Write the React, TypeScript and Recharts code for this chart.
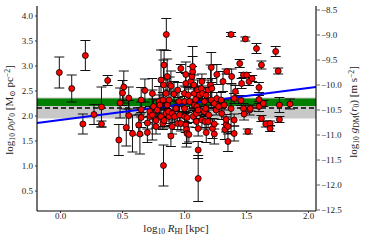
import React from "react";
import { ComposedChart, Scatter, ErrorBar, XAxis, YAxis, ReferenceArea, ReferenceLine } from "recharts";

// log10 R_HI [kpc]
const rhiLog = [
  -0.01, 0.09, 0.2, 0.18, 0.27, 0.33, 0.33, 0.38, 0.47, 0.48, 0.5, 0.51, 0.53, 0.55, 0.55, 0.58, 0.63, 0.64, 0.65, 0.65,
  0.65, 0.68, 0.7, 0.72, 0.72, 0.7, 0.74, 0.74, 0.75, 0.77, 0.77, 0.78, 0.795, 0.8, 0.81, 0.81, 0.825, 0.825, 0.83, 0.835,
  0.83, 0.835, 0.853, 0.86, 0.85, 0.85, 0.86, 0.875, 0.875, 0.87, 0.88, 0.89, 0.89, 0.9, 0.915, 0.92, 0.93, 0.945, 0.945, 0.955,
  0.96, 0.97, 0.97, 1.0, 1.0, 1.0, 1.0, 1.01, 1.01, 1.01, 1.015, 1.02, 1.02, 1.03, 1.04, 1.05, 1.06, 1.065, 1.065, 1.075,
  1.07, 1.08, 1.08, 1.09, 1.095, 1.095, 1.1, 1.105, 1.11, 1.11, 1.11, 1.11, 1.12, 1.135, 1.14, 1.14, 1.145, 1.16, 1.16, 1.165,
  1.17, 1.175, 1.175, 1.19, 1.19, 1.195, 1.21, 1.215, 1.215, 1.22, 1.225, 1.24, 1.24, 1.24, 1.255, 1.26, 1.26, 1.275, 1.295, 1.3,
  1.31, 1.32, 1.325, 1.335, 1.335, 1.34, 1.35, 1.35, 1.375, 1.375, 1.38, 1.4, 1.4, 1.4, 1.41, 1.445, 1.455, 1.46, 1.475, 1.475,
  1.48, 1.49, 1.5, 1.51, 1.525, 1.52, 1.53, 1.545, 1.58, 1.6, 1.6, 1.6, 1.62, 1.62, 1.635, 1.655, 1.69, 1.69, 1.735, 1.755,
  1.765, 1.765, 1.85, 1.035, 0.9,
];

// log10 rho0 r0 [Msun pc^-2]
const rhoLog = [
  2.87, 2.55, 3.21, 1.84, 2.03, 2.18, 1.84, 2.71, 1.52, 2.26, 2.46, 2.58, 1.77, 2.01, 2.36, 1.65, 1.82, 1.64, 2.32, 1.97,
  2.13, 2.51, 1.86, 1.99, 2.09, 1.67, 2.45, 2.02, 2.19, 1.91, 1.79, 2.12, 2.29, 2.22, 1.99, 2.72, 1.85, 2.32, 2.62, 3.02,
  1.01, 1.91, 3.63, 2.79, 2.45, 2.05, 2.22, 2.32, 1.99, 2.09, 2.63, 2.6, 1.6, 2.05, 2.44, 1.99, 2.15, 2.52, 1.85, 2.29,
  2.02, 2.95, 1.85, 2.45, 2.29, 2.15, 1.99, 2.83, 2.65, 1.82, 1.73, 1.65, 1.97, 2.42, 2.29, 2.69, 2.79, 2.89, 2.99, 2.62,
  1.99, 2.45, 2.22, 2.33, 2.05, 1.89, 2.19, 2.52, 2.12, 1.75, 1.32, 0.75, 2.42, 2.55, 2.69, 1.92, 2.45, 2.29, 2.09, 1.89,
  2.15, 2.42, 1.67, 2.52, 1.89, 2.02, 2.62, 2.97, 2.32, 2.55, 1.75, 1.84, 2.25, 1.64, 2.12, 2.35, 2.83, 2.19, 2.32, 2.05,
  2.69, 2.22, 1.73, 1.83, 1.93, 2.89, 1.79, 1.49, 3.63, 2.15, 2.79, 2.35, 1.92, 1.65, 2.49, 3.05, 2.31, 2.65, 2.82, 2.15,
  2.04, 3.54, 2.82, 1.69, 2.12, 2.69, 2.15, 2.75, 3.35, 2.57, 2.33, 2.19, 3.02, 1.95, 2.25, 1.84, 1.85, 1.75, 3.29, 2.9,
  2.22, 1.93, 2.24, 1.63, 1.79,
];

// 1-sigma uncertainty on log10 rho0 r0
const rhoErr = [
  0.31, 0.27, 0.3, 0.2, 0.2, 0.4, 0.06, 0.1, 0.31, 0.3, 0.25, 0.32, 0.37, 0.3, 0.22, 0.37, 0.2, 0.4, 0.25, 0.2,
  0.15, 0.23, 0.12, 0.15, 0.1, 0.2, 0.3, 0.5, 0.15, 0.15, 0.15, 0.2, 0.3, 0.2, 0.2, 0.6, 0.12, 0.15, 0.5, 0.3,
  0.41, 0.15, 0.32, 0.35, 0.3, 0.2, 0.1, 0.2, 0.2, 0.1, 0.15, 0.3, 0.21, 0.15, 0.25, 0.12, 0.15, 0.15, 0.12, 0.2,
  0.2, 0.08, 0.15, 0.15, 0.1, 0.1, 0.1, 0.25, 0.2, 0.15, 0.35, 0.2, 0.1, 0.15, 0.15, 0.15, 0.2, 0.3, 0.4, 0.2,
  0.12, 0.15, 0.1, 0.15, 0.1, 0.12, 0.1, 0.2, 0.1, 0.15, 0.17, 0.46, 0.12, 0.2, 0.15, 0.15, 0.15, 0.2, 0.1, 0.15,
  0.12, 0.15, 0.2, 0.2, 0.12, 0.1, 0.4, 0.3, 0.15, 0.2, 0.2, 0.1, 0.1, 0.2, 0.1, 0.12, 0.2, 0.1, 0.15, 0.12,
  0.2, 0.1, 0.2, 0.15, 0.1, 0.05, 0.15, 0.2, 0.04, 0.5, 0.15, 0.1, 0.12, 0.15, 0.12, 0.08, 0.1, 0.1, 0.05, 0.1,
  0.12, 0.04, 0.05, 0.05, 0.1, 0.08, 0.05, 0.06, 0.1, 0.1, 0.08, 0.1, 0.08, 0.06, 0.06, 0.06, 0.05, 0.06, 0.1, 0.06,
  0.15, 0.06, 0.1, 0.15, 0.15,
];

const xTicks = [0, 0.5, 1, 1.5, 2];
const leftTicks = [0.5, 1, 1.5, 2, 2.5, 3, 3.5, 4];
const rightTicks = [-12.5, -12, -11.5, -11, -10.5, -10, -9.5, -9, -8.5];

const xDomain = [-0.19, 2.06];
const leftDomain = [0.1, 4.2];
const gOffset = 12.62; // log g_DM = log rho0 r0 - offset

const grayBand = [1.95, 2.37];
const greenBand = [2.2, 2.35];
const meanLevel = 2.16;
const fitIntercept = 1.92;
const fitSlope = 0.32;

const points = rhiLog.map((x, i) => ({ x, y: rhoLog[i], err: rhoErr[i] }));
const fitLine = xDomain.map((x) => ({ x, y: fitIntercept + fitSlope * x }));

const serif = "'Liberation Serif', 'DejaVu Serif', serif";
const tickStyle = { fontFamily: serif, fontSize: 9, fill: "#222" };
const spine = { stroke: "#000", strokeWidth: 1.1 };
const fmt = (v: number) => v.toFixed(1).replace("-", "\u2212");

const Dot = (props: any) => (
  <circle cx={props.cx} cy={props.cy} r={3} fill="#ff0000" stroke="#000" strokeWidth={0.8} />
);

const sub = { fontSize: "70%", verticalAlign: "-0.25em", lineHeight: 0 } as const;
const sup = { fontSize: "70%", verticalAlign: "0.45em", lineHeight: 0 } as const;
const labelBase = {
  position: "absolute",
  fontFamily: serif,
  fontSize: 11,
  lineHeight: "12px",
  color: "#222",
  whiteSpace: "nowrap",
} as const;

export default function App() {
  return (
    <div style={{ position: "absolute", left: 0, top: 0, width: 366, height: 243, background: "#fff" }}>
      <ComposedChart width={366} height={243} margin={{ top: 6, right: 0, bottom: 0, left: 0 }}>
        <XAxis
          dataKey="x"
          type="number"
          domain={xDomain}
          ticks={xTicks}
          allowDataOverflow
          height={32}
          stroke="#000"
          axisLine={spine}
          tickSize={2}
          tickMargin={0}
          tickLine={{ stroke: "#333" }}
          tick={tickStyle}
          tickFormatter={fmt}
        />
        <XAxis
          xAxisId="top"
          orientation="top"
          type="number"
          domain={xDomain}
          allowDataOverflow
          height={0}
          stroke="#000"
          axisLine={spine}
          tick={false}
          tickLine={false}
        />
        <YAxis
          yAxisId="left"
          type="number"
          domain={leftDomain}
          ticks={leftTicks}
          allowDataOverflow
          width={37}
          stroke="#000"
          axisLine={spine}
          tickSize={2}
          tickMargin={2}
          tickLine={{ stroke: "#333" }}
          tick={tickStyle}
          tickFormatter={fmt}
        />
        <YAxis
          yAxisId="right"
          orientation="right"
          type="number"
          domain={[leftDomain[0] - gOffset, leftDomain[1] - gOffset]}
          ticks={rightTicks}
          allowDataOverflow
          width={50}
          stroke="#000"
          axisLine={spine}
          tickSize={4}
          tickMargin={1}
          tickLine={{ stroke: "#666" }}
          tick={tickStyle}
          tickFormatter={fmt}
        />
        <ReferenceArea yAxisId="left" y1={grayBand[0]} y2={grayBand[1]} fill="#c8c8c8" fillOpacity={1} stroke="none" />
        <ReferenceArea yAxisId="left" y1={greenBand[0]} y2={greenBand[1]} fill="#007f00" fillOpacity={1} stroke="none" />
        <ReferenceLine yAxisId="left" y={meanLevel} stroke="#000" strokeWidth={1.5} strokeDasharray="5 3" />
        <Scatter yAxisId="left" data={points} dataKey="y" shape={Dot} isAnimationActive={false}>
          <ErrorBar dataKey="err" direction="y" width={5} stroke="#111" strokeWidth={1} isAnimationActive={false} />
        </Scatter>
        <ReferenceLine yAxisId="left" segment={fitLine} stroke="#0000ff" strokeWidth={2} />
      </ComposedChart>
      <div style={{ ...labelBase, left: 176, top: 222, transform: "translateX(-50%)" }}>
        log<span style={sub}>10</span> <i>R</i>
        <span style={sub}>HI</span> [kpc]
      </div>
      <div style={{ ...labelBase, left: 9, top: 110, transform: "translate(-50%, -50%) rotate(-90deg)" }}>
        log<span style={sub}>10</span> <i>ρ</i>
        <span style={sub}>0</span>
        <i>r</i>
        <span style={sub}>0</span> [M<span style={sub}>⊙</span> pc<span style={sup}>−2</span>]
      </div>
      <div style={{ ...labelBase, left: 353, top: 112, transform: "translate(-50%, -50%) rotate(-90deg)" }}>
        log<span style={sub}>10</span> <i>g</i>
        <span style={sub}>DM</span>(<i>r</i>
        <span style={sub}>0</span>) [m s<span style={sup}>−2</span>]
      </div>
    </div>
  );
}
